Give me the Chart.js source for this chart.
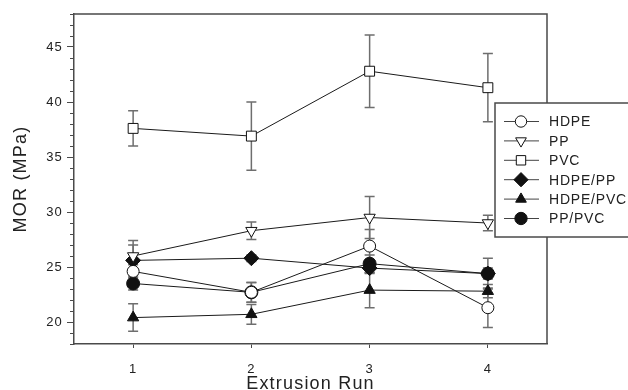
<!DOCTYPE html>
<html lang="en">
  <head>
    <meta charset="UTF-8" />
    <title>MOR by extrusion run</title>
    <script src="https://cdn.jsdelivr.net/npm/chart.js"></script>
    <style>
      html, body { margin: 0; padding: 0; background: #fff; }
      canvas { display: block; }
    </style>
  </head>
  <body>
    <canvas id="morChart" width="628" height="390"></canvas>

    <script>
      // Extrusion runs and MOR means (MPa) with their +/- error values
      const runs = [1, 2, 3, 4];
      const yTicks = [20, 25, 30, 35, 40, 45];

      const hdpe = [24.6, 22.7, 26.9, 21.3];
      const hdpeErr = [0.6, 0.9, 1.5, 1.8];
      const pp = [26.0, 28.3, 29.5, 29.0];
      const ppErr = [1.4, 0.8, 1.9, 0.7];
      const pvc = [37.6, 36.9, 42.8, 41.3];
      const pvcErr = [1.6, 3.1, 3.3, 3.1];
      const hdpePp = [25.6, 25.8, 24.9, 24.4];
      const hdpePpErr = [1.4, 0.3, 0.5, 0.5];
      const hdpePvc = [20.4, 20.7, 22.9, 22.8];
      const hdpePvcErr = [1.25, 0.9, 1.6, 0.6];
      const ppPvc = [23.5, 22.7, 25.3, 24.4];
      const ppPvcErr = [0.6, 0.9, 0.8, 1.4];

      const FONT = "'Liberation Sans', Arial, sans-serif";
      const AXIS = "#4a4a4a";
      const ERR = "#6e6e6e";

      function series(label, values, errs, style, filled, radius, rotation) {
        return {
          label: label,
          data: runs.map((r, i) => ({ x: r, y: values[i] })),
          errors: errs,
          borderColor: "#1a1a1a",
          borderWidth: 1,
          pointStyle: style,
          pointRadius: radius,
          pointRotation: rotation || 0,
          pointBorderWidth: 1,
          pointBorderColor: "#111",
          pointBackgroundColor: filled ? "#111" : "#fff",
          fill: false,
          tension: 0,
        };
      }

      const datasets = [
        series("HDPE", hdpe, hdpeErr, "circle", false, 6),
        series("PP", pp, ppErr, "triangle", false, 6.5, 180),
        series("PVC", pvc, pvcErr, "rect", false, 7),
        series("HDPE/PP", hdpePp, hdpePpErr, "rectRot", true, 7.5),
        series("HDPE/PVC", hdpePvc, hdpePvcErr, "triangle", true, 6.5),
        series("PP/PVC", ppPvc, ppPvcErr, "circle", true, 6.5),
      ];

      // wider letter spacing for the axis text
      const spacing = {
        id: "spacing",
        beforeDraw(chart) {
          chart.ctx.letterSpacing = "1.2px";
        },
      };

      // vertical error bars with caps, under the lines and markers
      const errorBars = {
        id: "errorBars",
        beforeDatasetsDraw(chart) {
          const ctx = chart.ctx;
          const xs = chart.scales.x;
          const ys = chart.scales.y;
          ctx.save();
          ctx.strokeStyle = ERR;
          ctx.lineWidth = 1.5;
          chart.data.datasets.forEach((ds) => {
            ds.data.forEach((p, i) => {
              const e = ds.errors[i];
              const x = xs.getPixelForValue(p.x);
              const y1 = ys.getPixelForValue(p.y + e);
              const y2 = ys.getPixelForValue(p.y - e);
              ctx.beginPath();
              ctx.moveTo(x, y1);
              ctx.lineTo(x, y2);
              ctx.moveTo(x - 5, y1);
              ctx.lineTo(x + 5, y1);
              ctx.moveTo(x - 5, y2);
              ctx.lineTo(x + 5, y2);
              ctx.stroke();
            });
          });
          ctx.restore();
        },
      };

      // box frame, minor y ticks and the boxed legend
      const frame = {
        id: "frame",
        afterDraw(chart) {
          const ctx = chart.ctx;
          const a = chart.chartArea;
          const ys = chart.scales.y;
          ctx.save();
          ctx.strokeStyle = AXIS;
          ctx.lineWidth = 1.5;
          ctx.beginPath();
          ctx.moveTo(a.left, a.top);
          ctx.lineTo(a.right, a.top);
          ctx.lineTo(a.right, a.bottom);
          ctx.stroke();

          ctx.lineWidth = 1;
          ctx.beginPath();
          for (let v = ys.min; v <= ys.max; v++) {
            if (v % 5 === 0) continue;
            const y = Math.round(ys.getPixelForValue(v)) + 0.5;
            ctx.moveTo(a.left - 4, y);
            ctx.lineTo(a.left, y);
          }
          ctx.stroke();

          // legend
          const bx = 495, by = 103, bw = 150, bh = 134;
          ctx.fillStyle = "#fff";
          ctx.fillRect(bx, by, bw, bh);
          ctx.strokeStyle = AXIS;
          ctx.lineWidth = 1.5;
          ctx.strokeRect(bx, by, bw, bh);

          ctx.font = "14px " + FONT;
          ctx.letterSpacing = "0.8px";
          ctx.textBaseline = "middle";
          ctx.textAlign = "left";
          chart.data.datasets.forEach((ds, i) => {
            const y = 121.5 + i * 19.4;
            ctx.strokeStyle = "#444";
            ctx.lineWidth = 1;
            ctx.beginPath();
            ctx.moveTo(504, y);
            ctx.lineTo(539, y);
            ctx.stroke();
            ctx.fillStyle = ds.pointBackgroundColor;
            ctx.strokeStyle = ds.pointBorderColor;
            Chart.helpers.drawPoint(
              ctx,
              {
                pointStyle: ds.pointStyle,
                radius: ds.pointRadius * 0.95,
                rotation: ds.pointRotation,
                borderWidth: 1,
              },
              521,
              y
            );
            ctx.fillStyle = "#222";
            ctx.fillText(ds.label, 549, y + 1);
          });
          ctx.restore();
        },
      };

      new Chart(document.getElementById("morChart"), {
        type: "line",
        data: { datasets: datasets },
        options: {
          responsive: false,
          animation: false,
          devicePixelRatio: 1,
          layout: { padding: { left: 0, right: 81, top: 14, bottom: 0 } },
          plugins: { legend: { display: false }, tooltip: { enabled: false } },
          scales: {
            x: {
              type: "linear",
              min: 0.5,
              max: 4.5,
              afterBuildTicks(scale) {
                scale.ticks = runs.map((v) => ({ value: v }));
              },
              afterFit(scale) {
                scale.height = 46;
              },
              grid: {
                drawOnChartArea: false,
                tickLength: 4,
                tickColor: AXIS,
              },
              border: { color: AXIS, width: 1.5 },
              ticks: {
                padding: 14,
                color: "#222",
                font: { family: FONT, size: 13 },
              },
              title: {
                display: true,
                text: "Extrusion Run",
                color: "#222",
                padding: { top: 0, bottom: 0 },
                font: { family: FONT, size: 18, lineHeight: 0.7 },
              },
            },
            y: {
              min: 18,
              max: 48,
              afterBuildTicks(scale) {
                scale.ticks = yTicks.map((v) => ({ value: v }));
              },
              afterFit(scale) {
                scale.width = 74;
              },
              grid: {
                drawOnChartArea: false,
                tickLength: 7,
                tickColor: AXIS,
              },
              border: { color: AXIS, width: 1.5 },
              ticks: {
                padding: 4,
                color: "#222",
                font: { family: FONT, size: 13 },
              },
              title: {
                display: true,
                text: "MOR (MPa)",
                color: "#222",
                padding: { top: 10, bottom: 0 },
                font: { family: FONT, size: 18, lineHeight: 1.2 },
              },
            },
          },
        },
        plugins: [spacing, errorBars, frame],
      });
    </script>
  </body>
</html>
